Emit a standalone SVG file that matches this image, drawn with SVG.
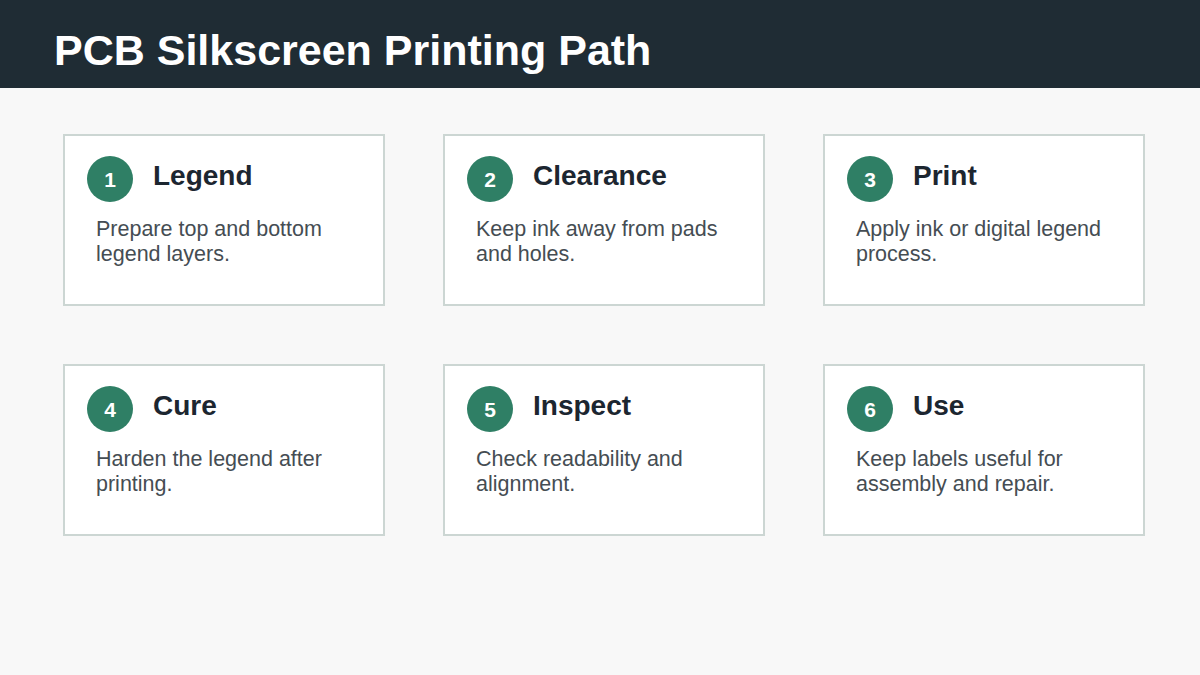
<svg xmlns="http://www.w3.org/2000/svg" width="1200" height="675" viewBox="0 0 1200 675">
<style>
.card{fill:#ffffff;stroke:#ccd6d3;stroke-width:2}
.num{fill:#2f7f65}
.numt{font-family:"Liberation Sans",Arial,sans-serif;font-weight:bold;font-size:21px;fill:#ffffff;text-anchor:middle}
.ttl{font-family:"Liberation Sans",Arial,sans-serif;font-weight:bold;font-size:28px;fill:#1c2630}
.desc{font-family:"Liberation Sans",Arial,sans-serif;font-size:21.5px;fill:#454d53}
</style>
<rect width="1200" height="675" fill="#f8f8f8"/>
<rect x="0" y="0" width="1200" height="88" fill="#1f2c34"/>
<text x="54" y="65" font-family="Liberation Sans,Arial,sans-serif" font-weight="bold" font-size="43" fill="#ffffff">PCB Silkscreen Printing Path</text>
<g id="connectors"></g>
<g id="node1">
<rect class="card" x="64" y="135" width="320" height="170"/>
<circle class="num" cx="110" cy="179" r="23"/>
<text class="numt" x="110" y="187">1</text>
<text class="ttl" x="153" y="185">Legend</text>
<text class="desc" x="96" y="236">Prepare top and bottom</text>
<text class="desc" x="96" y="261">legend layers.</text>
</g>
<g id="node2">
<rect class="card" x="444" y="135" width="320" height="170"/>
<circle class="num" cx="490" cy="179" r="23"/>
<text class="numt" x="490" y="187">2</text>
<text class="ttl" x="533" y="185">Clearance</text>
<text class="desc" x="476" y="236">Keep ink away from pads</text>
<text class="desc" x="476" y="261">and holes.</text>
</g>
<g id="node3">
<rect class="card" x="824" y="135" width="320" height="170"/>
<circle class="num" cx="870" cy="179" r="23"/>
<text class="numt" x="870" y="187">3</text>
<text class="ttl" x="913" y="185">Print</text>
<text class="desc" x="856" y="236">Apply ink or digital legend</text>
<text class="desc" x="856" y="261">process.</text>
</g>
<g id="node4">
<rect class="card" x="64" y="365" width="320" height="170"/>
<circle class="num" cx="110" cy="409" r="23"/>
<text class="numt" x="110" y="417">4</text>
<text class="ttl" x="153" y="415">Cure</text>
<text class="desc" x="96" y="466">Harden the legend after</text>
<text class="desc" x="96" y="491">printing.</text>
</g>
<g id="node5">
<rect class="card" x="444" y="365" width="320" height="170"/>
<circle class="num" cx="490" cy="409" r="23"/>
<text class="numt" x="490" y="417">5</text>
<text class="ttl" x="533" y="415">Inspect</text>
<text class="desc" x="476" y="466">Check readability and</text>
<text class="desc" x="476" y="491">alignment.</text>
</g>
<g id="node6">
<rect class="card" x="824" y="365" width="320" height="170"/>
<circle class="num" cx="870" cy="409" r="23"/>
<text class="numt" x="870" y="417">6</text>
<text class="ttl" x="913" y="415">Use</text>
<text class="desc" x="856" y="466">Keep labels useful for</text>
<text class="desc" x="856" y="491">assembly and repair.</text>
</g>
</svg>
